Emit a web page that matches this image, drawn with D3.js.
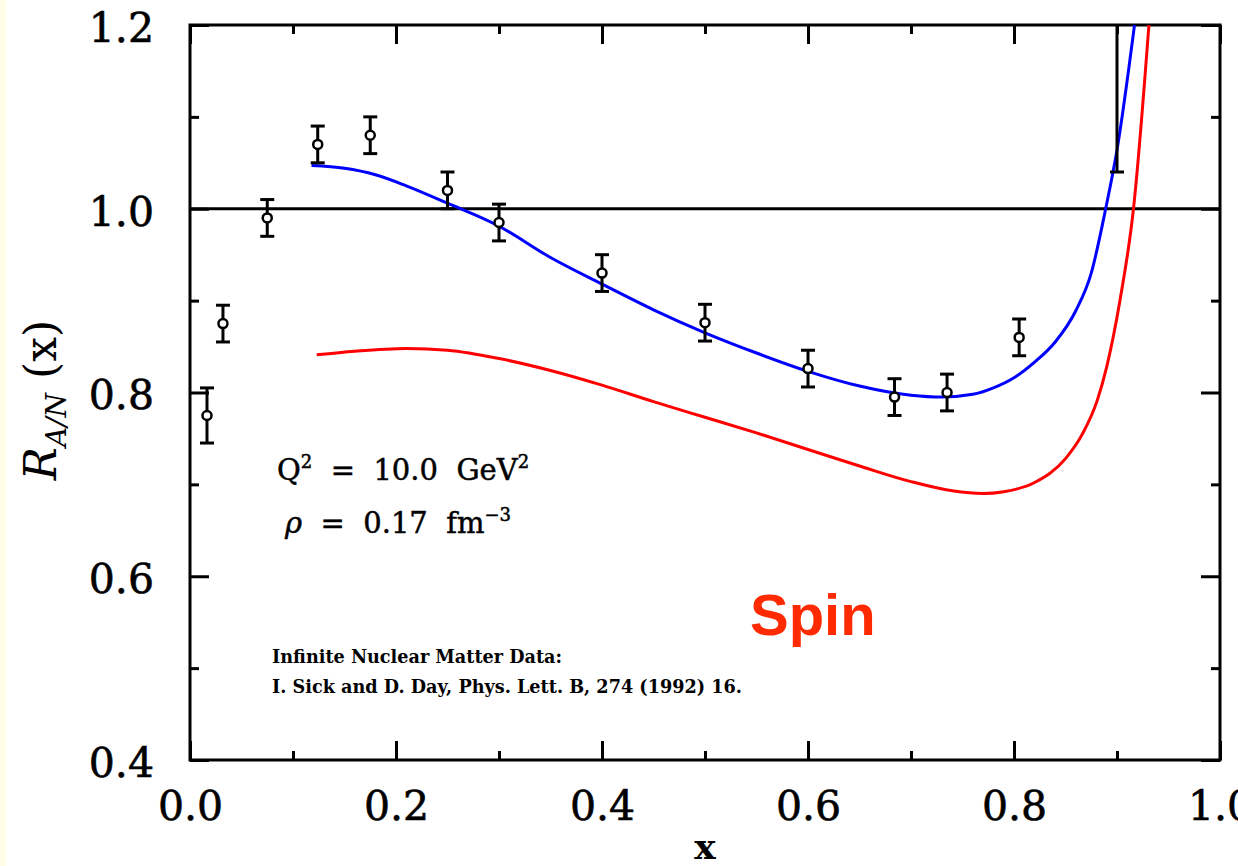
<!DOCTYPE html>
<html>
<head>
<meta charset="utf-8">
<script src="https://cdn.jsdelivr.net/npm/d3@7"></script>
<style>
  body { margin: 0; background: #fff; }
  svg { display: block; }
</style>
</head>
<body>
<div id="chart"></div>
<script>
// nuclear matter data (Sick & Day 1992)
const dataX = [0.0165, 0.032, 0.075, 0.124, 0.175, 0.250, 0.300, 0.400, 0.500, 0.600, 0.684, 0.735, 0.805, 0.900];
const dataR = [0.775, 0.875, 0.990, 1.070, 1.080, 1.020, 0.985, 0.930, 0.876, 0.826, 0.795, 0.800, 0.860, 1.300];
const dataErr = [0.030, 0.020, 0.020, 0.020, 0.020, 0.020, 0.020, 0.020, 0.020, 0.020, 0.020, 0.020, 0.020, 0.260];

// blue curve
const blueX = [0.118, 0.150, 0.180, 0.210, 0.250, 0.300, 0.350, 0.400, 0.450, 0.500, 0.550, 0.600, 0.650, 0.700, 0.730, 0.760, 0.780, 0.800, 0.820, 0.840, 0.860, 0.875, 0.889, 0.900, 0.917];
const blueY = [1.047, 1.044, 1.037, 1.025, 1.006, 0.981, 0.947, 0.918, 0.890, 0.865, 0.843, 0.823, 0.807, 0.797, 0.795, 0.798, 0.805, 0.816, 0.833, 0.855, 0.889, 0.930, 1.000, 1.064, 1.200];

// red curve
const redX = [0.123, 0.160, 0.210, 0.250, 0.300, 0.350, 0.400, 0.450, 0.500, 0.550, 0.600, 0.650, 0.700, 0.740, 0.770, 0.790, 0.820, 0.850, 0.867, 0.881, 0.890, 0.903, 0.916, 0.931];
const redY = [0.841, 0.845, 0.848, 0.846, 0.837, 0.824, 0.808, 0.790, 0.773, 0.756, 0.738, 0.720, 0.703, 0.693, 0.690, 0.692, 0.702, 0.728, 0.756, 0.792, 0.828, 0.901, 1.000, 1.200];

const xTicks = [0, 0.2, 0.4, 0.6, 0.8, 1.0];
const xMinor = [0.1, 0.3, 0.5, 0.7, 0.9];
const yTicks = [0.4, 0.6, 0.8, 1.0, 1.2];
const yMinor = [0.5, 0.7, 0.9, 1.1];

const W = 1238, H = 866;
const margin = { top: 25, right: 18, bottom: 106, left: 190 };
const width = W - margin.left - margin.right;
const height = H - margin.top - margin.bottom;
const serif = "'DejaVu Serif', 'Liberation Serif', serif";

const svg = d3.select("#chart").append("svg")
    .attr("width", W)
    .attr("height", H);

// faint yellow strip on the left edge of the slide
svg.append("rect").attr("x", 0).attr("y", 0).attr("width", 6).attr("height", H).attr("fill", "#fffde6");

const g = svg.append("g").attr("transform", `translate(${margin.left},${margin.top})`);

const x = d3.scaleLinear().domain([0, 1]).range([0, width]);
const y = d3.scaleLinear().domain([0.4, 1.2]).range([height, 0]);

g.append("clipPath").attr("id", "plotClip")
  .append("rect").attr("width", width).attr("height", height);

// axes: major + minor ticks, all inward
function styleAxis(sel) {
    sel.select(".domain").remove();
    sel.selectAll(".tick line").attr("stroke", "#000").attr("stroke-width", 3);
    sel.selectAll("text")
        .attr("font-family", serif).attr("font-size", 41).attr("fill", "#000")
        .attr("stroke", "#000").attr("stroke-width", 0.6);
}

g.append("g").attr("transform", `translate(0,${height})`)
    .call(d3.axisBottom(x).tickValues(xTicks).tickSize(-19).tickPadding(31).tickFormat(d3.format(".1f")))
    .call(styleAxis);
g.append("g").attr("transform", `translate(0,${height})`)
    .call(d3.axisBottom(x).tickValues(xMinor).tickSize(-9).tickFormat(""))
    .call(styleAxis);
g.append("g")
    .call(d3.axisTop(x).tickValues(xTicks).tickSize(-19).tickFormat(""))
    .call(styleAxis);
g.append("g")
    .call(d3.axisTop(x).tickValues(xMinor).tickSize(-9).tickFormat(""))
    .call(styleAxis);

g.append("g")
    .call(d3.axisLeft(y).tickValues(yTicks).tickSize(-19).tickPadding(36).tickFormat(d3.format(".1f")))
    .call(styleAxis)
    .selectAll("text").attr("dy", "0.4em");
g.append("g")
    .call(d3.axisLeft(y).tickValues(yMinor).tickSize(-9).tickFormat(""))
    .call(styleAxis);
g.append("g").attr("transform", `translate(${width},0)`)
    .call(d3.axisRight(y).tickValues(yTicks).tickSize(-19).tickFormat(""))
    .call(styleAxis);
g.append("g").attr("transform", `translate(${width},0)`)
    .call(d3.axisRight(y).tickValues(yMinor).tickSize(-9).tickFormat(""))
    .call(styleAxis);

// frame
g.append("rect")
    .attr("width", width).attr("height", height)
    .attr("fill", "none").attr("stroke", "#000").attr("stroke-width", 3);

// reference line at R = 1
g.append("line")
    .attr("x1", x(0)).attr("x2", x(1))
    .attr("y1", y(1)).attr("y2", y(1))
    .attr("stroke", "#000").attr("stroke-width", 3);

const plot = g.append("g").attr("clip-path", "url(#plotClip)");

const line = d3.line()
    .x(d => x(d[0]))
    .y(d => y(d[1]))
    .curve(d3.curveMonotoneX);

plot.append("path")
    .datum(d3.zip(redX, redY))
    .attr("d", line)
    .attr("fill", "none").attr("stroke", "#ff0000").attr("stroke-width", 3);

plot.append("path")
    .datum(d3.zip(blueX, blueY))
    .attr("d", line)
    .attr("fill", "none").attr("stroke", "#0000ff").attr("stroke-width", 3);

// data points with error bars
const pts = dataX.map((d, i) => ({ x: d, r: dataR[i], e: dataErr[i] }));
const capW = 7;

const pt = plot.selectAll(".pt").data(pts).enter().append("g").attr("class", "pt");
pt.append("line")
    .attr("x1", d => x(d.x)).attr("x2", d => x(d.x))
    .attr("y1", d => y(d.r + d.e)).attr("y2", d => y(d.r - d.e))
    .attr("stroke", "#000").attr("stroke-width", 3);
pt.append("line")
    .attr("x1", d => x(d.x) - capW).attr("x2", d => x(d.x) + capW)
    .attr("y1", d => y(d.r + d.e)).attr("y2", d => y(d.r + d.e))
    .attr("stroke", "#000").attr("stroke-width", 3);
pt.append("line")
    .attr("x1", d => x(d.x) - capW).attr("x2", d => x(d.x) + capW)
    .attr("y1", d => y(d.r - d.e)).attr("y2", d => y(d.r - d.e))
    .attr("stroke", "#000").attr("stroke-width", 3);
pt.append("circle")
    .attr("cx", d => x(d.x)).attr("cy", d => y(d.r))
    .attr("r", 4.5)
    .attr("fill", "#fff").attr("stroke", "#000").attr("stroke-width", 2.5);

// axis titles
svg.append("text")
    .attr("x", margin.left + width / 2).attr("y", 859)
    .attr("text-anchor", "middle")
    .attr("font-family", serif).attr("font-weight", "bold").attr("font-size", 36)
    .text("x");

const yl = svg.append("text")
    .attr("transform", "translate(56,400) rotate(-90)")
    .attr("text-anchor", "middle")
    .attr("font-family", serif).attr("font-size", 44);
yl.append("tspan").attr("font-style", "italic").text("R");
yl.append("tspan").attr("font-style", "italic").attr("font-size", 28).attr("dy", 10).text("A/N");
yl.append("tspan").attr("dy", -10).attr("dx", 14).text("(x)");

// annotations
function supText(parent, xx, yy, parts) {
    const t = parent.append("text")
        .attr("x", xx).attr("y", yy)
        .attr("font-family", serif).attr("font-size", 29)
        .attr("stroke", "#000").attr("stroke-width", 0.5)
        .attr("xml:space", "preserve");
    parts.forEach(p => {
        const s = t.append("tspan").text(p.t);
        if (p.sup) s.attr("font-size", 18).attr("dy", -12);
        if (p.back) s.attr("dy", 12);
        if (p.italic) s.attr("font-style", "italic");
    });
    return t;
}
supText(svg, 277, 480, [
    { t: "Q" }, { t: "2", sup: true }, { t: "  =  10.0  GeV", back: true }, { t: "2", sup: true }
]);
supText(svg, 285, 533, [
    { t: "ρ", italic: true }, { t: "  =  0.17  fm" }, { t: "−3", sup: true }
]);

svg.append("text")
    .attr("x", 272).attr("y", 663)
    .attr("font-family", serif).attr("font-weight", "bold").attr("font-size", 19)
    .attr("textLength", 290).attr("lengthAdjust", "spacingAndGlyphs")
    .text("Infinite Nuclear Matter Data:");
svg.append("text")
    .attr("x", 272).attr("y", 693)
    .attr("font-family", serif).attr("font-weight", "bold").attr("font-size", 19)
    .attr("textLength", 470).attr("lengthAdjust", "spacingAndGlyphs")
    .text("I. Sick and D. Day, Phys. Lett. B, 274 (1992) 16.");

svg.append("text")
    .attr("x", 750).attr("y", 635)
    .attr("font-family", "'Liberation Sans', Arial, sans-serif")
    .attr("font-weight", "bold").attr("font-size", 58)
    .attr("fill", "#ff2a00")
    .text("Spin");
</script>
</body>
</html>
